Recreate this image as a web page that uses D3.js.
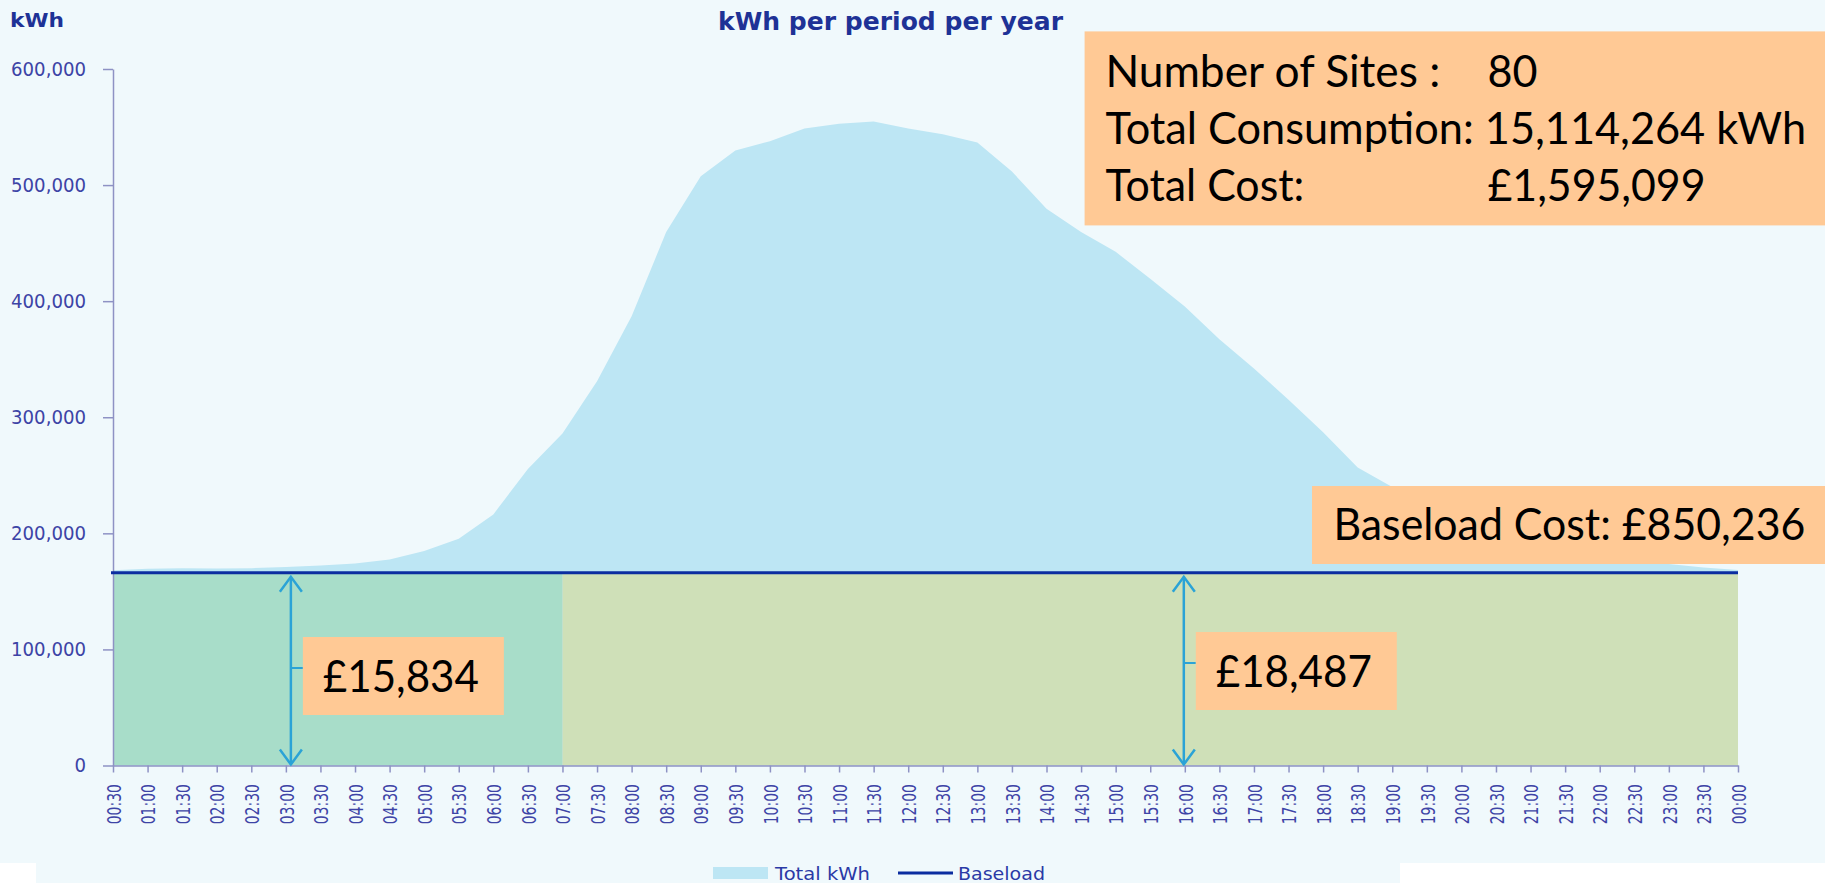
<!DOCTYPE html>
<html lang="en">
<head>
<meta charset="UTF-8">
<title>kWh per period per year</title>
<script src="https://d3js.org/d3.v7.min.js"></script>
<style>
  body { margin: 0; background: #ffffff; }
  svg { display: block; }
</style>
</head>
<body>
<div id="chart"></div>
<script>
// half-hour periods (end of each period)
var periods = ["00:30","01:00","01:30","02:00","02:30","03:00","03:30","04:00",
  "04:30","05:00","05:30","06:00","06:30","07:00","07:30","08:00",
  "08:30","09:00","09:30","10:00","10:30","11:00","11:30","12:00",
  "12:30","13:00","13:30","14:00","14:30","15:00","15:30","16:00",
  "16:30","17:00","17:30","18:00","18:30","19:00","19:30","20:00",
  "20:30","21:00","21:30","22:00","22:30","23:00","23:30","00:00"];

var totalKwh = [168300, 169500, 170000, 169700, 170000, 170900, 172300, 174000,
  177500, 184700, 195300, 216300, 255500, 286000, 331000, 387000,
  459500, 507700, 529800, 537800, 548800, 552800, 554800, 548800,
  543800, 536700, 511700, 479600, 459500, 442500, 419400, 395300,
  367200, 342100, 315000, 287000, 256800, 240000, 224000, 210000,
  198000, 190000, 184000, 180000, 176500, 173500, 170500, 168500];

var baseload = 166000;
var yTicks = [0, 100000, 200000, 300000, 400000, 500000, 600000];

// baseload bands under the line
var bandStarts = ["00:30", "07:00"];
var bandEnds = ["07:00", "00:00"];
var bandCosts = ["£15,834", "£18,487"];
var arrowAt = ["03:00", "16:00"];

var summaryLabels = ["Number of Sites :", "Total Consumption:", "Total Cost:"];
var summaryValues = ["80", "15,114,264 kWh", "£1,595,099"];
var baseloadCost = "Baseload Cost: £850,236";
var legendNames = ["Total kWh", "Baseload"];

var W = 1825, H = 883;
var axisFont = "'DejaVu Sans', Verdana, sans-serif";
var noteFont = "Lato, 'Open Sans', sans-serif";

var svg = d3.select("#chart").append("svg")
    .attr("width", W)
    .attr("height", H);

// squeeze a text horizontally so it spans `w` pixels (keeps glyph height)
function fitText(parent, str, px, py, w, size) {
    var t = parent.append("text")
        .style("font-family", noteFont).style("font-size", size + "px")
        .attr("fill", "#000")
        .text(str);
    var len = t.node().getComputedTextLength();
    t.attr("transform", "translate(" + px + "," + py + ") scale(" + (w / len) + ",1)");
    return t;
}

// background (chart panel + legend strip)
svg.append("rect").attr("x", 0).attr("y", 0).attr("width", W).attr("height", 863).attr("fill", "#F0F9FC");
svg.append("rect").attr("x", 36).attr("y", 863).attr("width", 1364).attr("height", 20).attr("fill", "#F0F9FC");

var x = d3.scalePoint().domain(periods).range([113, 1738]);
var y = d3.scaleLinear().domain([0, 600000]).range([765.5, 69]);

// total kWh area
var area = d3.area()
    .x(function(d, i) { return x(periods[i]); })
    .y0(y(0))
    .y1(function(d) { return y(d); });

svg.append("path")
    .datum(totalKwh)
    .attr("d", area)
    .attr("fill", "#BDE6F4");

// coloured baseload bands
var bandColours = ["#A8DDC9", "#CFE0B8"];
svg.selectAll("rect.band")
    .data(bandStarts)
    .enter()
    .append("rect")
    .attr("class", "band")
    .attr("x", function(d) { return x(d); })
    .attr("y", y(baseload))
    .attr("width", function(d, i) { return x(bandEnds[i]) - x(d); })
    .attr("height", y(0) - y(baseload))
    .attr("fill", function(d, i) { return bandColours[i]; });

// axes
var yAxis = svg.append("g")
    .attr("transform", "translate(" + x(periods[0]) + ",0)")
    .call(d3.axisLeft(y).tickValues(yTicks).tickSize(10).tickSizeOuter(0).tickPadding(17)
        .tickFormat(d3.format(",")));

var xAxis = svg.append("g")
    .attr("transform", "translate(0," + y(0) + ")")
    .call(d3.axisBottom(x).tickSize(7).tickSizeOuter(0));

[yAxis, xAxis].forEach(function(g) {
    g.select(".domain").attr("stroke", "#8E92C4").attr("stroke-width", 1.5);
    g.selectAll(".tick line").attr("stroke", "#8E92C4").attr("stroke-width", 1.5);
    g.selectAll("text")
        .attr("fill", "#3D44A6")
        .style("font-family", axisFont);
});

yAxis.selectAll("text").style("font-size", "19.5px");
yAxis.selectAll("text").each(function() {
    var len = this.getComputedTextLength();
    d3.select(this).attr("textLength", len * 0.93).attr("lengthAdjust", "spacingAndGlyphs");
});

xAxis.selectAll("text")
    .style("font-size", "20px")
    .attr("transform", "rotate(-90)")
    .attr("x", -18.5)
    .attr("y", 0)
    .attr("dy", "0.36em")
    .style("text-anchor", "end");
xAxis.selectAll("text").each(function() {
    var len = this.getComputedTextLength();
    d3.select(this).attr("textLength", len * 0.70).attr("lengthAdjust", "spacingAndGlyphs");
});

// baseload line
svg.append("line")
    .attr("x1", x(periods[0]) - 2)
    .attr("x2", x(periods[periods.length - 1]))
    .attr("y1", y(baseload))
    .attr("y2", y(baseload))
    .attr("stroke", "#0B2DA0")
    .attr("stroke-width", 3);

// axis titles
svg.append("text")
    .attr("x", 10).attr("y", 27)
    .attr("textLength", 54).attr("lengthAdjust", "spacingAndGlyphs")
    .style("font-family", axisFont).style("font-weight", "bold").style("font-size", "20px")
    .attr("fill", "#1E3296")
    .text("kWh");

svg.append("text")
    .attr("x", 718).attr("y", 30)
    .attr("textLength", 345).attr("lengthAdjust", "spacingAndGlyphs")
    .style("font-family", axisFont).style("font-weight", "bold").style("font-size", "24px")
    .attr("fill", "#1E3296")
    .text("kWh per period per year");

// arrows + cost boxes for each band
var arrowNudge = [5, -1];
var boxTops = [637, 632];
var arrowColour = "#2BA3D6";
arrowAt.forEach(function(p, k) {
    var ax = x(p) + arrowNudge[k];
    var yTop = y(baseload) + 4, yBot = y(0) - 1;
    var g = svg.append("g");
    g.append("line").attr("x1", ax).attr("x2", ax).attr("y1", yTop).attr("y2", yBot)
        .attr("stroke", arrowColour).attr("stroke-width", 2.5);
    g.append("path")
        .attr("d", "M" + (ax - 11) + "," + (yTop + 15) + "L" + ax + "," + yTop + "L" + (ax + 11) + "," + (yTop + 15))
        .attr("fill", "none").attr("stroke", arrowColour).attr("stroke-width", 2.5);
    g.append("path")
        .attr("d", "M" + (ax - 11) + "," + (yBot - 15) + "L" + ax + "," + yBot + "L" + (ax + 11) + "," + (yBot - 15))
        .attr("fill", "none").attr("stroke", arrowColour).attr("stroke-width", 2.5);
    var bx = ax + 12, by = boxTops[k];
    g.append("line").attr("x1", ax).attr("x2", bx).attr("y1", by + 31).attr("y2", by + 31)
        .attr("stroke", arrowColour).attr("stroke-width", 2);
    g.append("rect").attr("x", bx).attr("y", by).attr("width", 201).attr("height", 78)
        .attr("fill", "#FFC995");
    fitText(g, bandCosts[k], bx + 20, by + 55, 156, 44);
});

// baseload cost box
svg.append("rect").attr("x", 1312).attr("y", 486).attr("width", W - 1312).attr("height", 78)
    .attr("fill", "#FFC995");
fitText(svg, baseloadCost, 1333.5, 540, 472, 45);

// summary box
svg.append("rect").attr("x", 1084.6).attr("y", 31.4).attr("width", W - 1084.6).attr("height", 194)
    .attr("fill", "#FFC995");
var labelLens = [335, 0, 199];
var valueX = [1487.5, 0, 1487.5];
var valueLens = [50, 0, 218];
summaryLabels.forEach(function(lbl, i) {
    var by = 87 + i * 57.2;
    if (i === 1) {
        fitText(svg, lbl + " " + summaryValues[i], 1105.4, by, 701, 45);
        return;
    }
    fitText(svg, lbl, 1105.4, by, labelLens[i], 45);
    fitText(svg, summaryValues[i], valueX[i], by, valueLens[i], 45);
});

// legend
var legend = svg.append("g");
legend.append("rect").attr("x", 713).attr("y", 867).attr("width", 55).attr("height", 12)
    .attr("fill", "#BDE6F4");
legend.append("line").attr("x1", 898).attr("x2", 953).attr("y1", 873).attr("y2", 873)
    .attr("stroke", "#0B2DA0").attr("stroke-width", 3);
legend.selectAll("text")
    .data(legendNames)
    .enter()
    .append("text")
    .attr("x", function(d, i) { return i === 0 ? 775 : 958; })
    .attr("y", 879.5)
    .attr("textLength", function(d, i) { return i === 0 ? 95 : 87; })
    .attr("lengthAdjust", "spacingAndGlyphs")
    .style("font-family", axisFont).style("font-size", "18.5px")
    .attr("fill", "#2A3AA6")
    .text(function(d) { return d; });
</script>
</body>
</html>
